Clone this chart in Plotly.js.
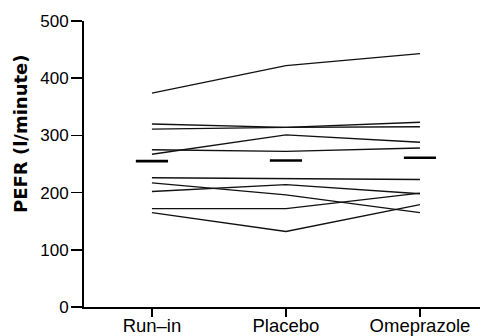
<!DOCTYPE html>
<html><head><meta charset="utf-8">
<script src="https://cdn.plot.ly/plotly-3.0.1.min.js"></script>
<style>html,body{margin:0;padding:0;background:#fff}#c{width:480px;height:336px}</style>
</head><body><div id="c"></div>
<script>
const categories = ["Run\u2013in", "Placebo", "Omeprazole"];
const patientA = [374, 422, 443];
const patientB = [320, 314, 323];
const patientC = [311, 314, 315];
const patientD = [267, 301, 288];
const patientE = [275, 272, 278];
const patientF = [226, 224, 223];
const patientG = [217, 196, 165];
const patientH = [202, 214, 198];
const patientI = [172, 172, 199];
const patientJ = [165, 132, 179];
const means = [255, 256, 261];
const yTicks = [0, 100, 200, 300, 400, 500];
const yTitle = "PEFR (l/minute)";

const patients = [patientA, patientB, patientC, patientD, patientE, patientF, patientG, patientH, patientI, patientJ];
const xIdx = [0, 1, 2];
const traces = patients.map(p => ({
  x: xIdx, y: p, type: 'scatter', mode: 'lines',
  line: {color: '#111', width: 1.4}, hoverinfo: 'skip', showlegend: false
}));
traces.push({
  x: xIdx, y: means, type: 'scatter', mode: 'markers', showlegend: false,
  marker: {symbol: 'line-ew-open', size: 23, color: '#000', line: {color: '#000', width: 2.6}}
});

const layout = {
  width: 480, height: 336,
  margin: {l: 84, r: 0, t: 21, b: 29},
  paper_bgcolor: '#fff', plot_bgcolor: '#fff',
  font: {family: 'Liberation Sans, Arial, sans-serif', color: '#000', size: 17},
  showlegend: false,
  xaxis: {
    range: [-0.507, 2.448], tickvals: xIdx, ticktext: categories,
    showgrid: false, zeroline: false, showline: true, linecolor: '#000', linewidth: 2,
    ticks: 'outside', ticklen: 8, tickwidth: 1.5, tickcolor: '#000',
    tickfont: {size: 18.5}, ticklabelstandoff: -7, fixedrange: true
  },
  yaxis: {
    range: [0, 500], tickvals: yTicks,
    showgrid: false, zeroline: false, showline: true, linecolor: '#000', linewidth: 2,
    ticks: 'outside', ticklen: 11, tickwidth: 1.5, tickcolor: '#000',
    tickfont: {size: 17}, ticklabelstandoff: -1,
    fixedrange: true
  },
  annotations: [{
    text: '<b>' + yTitle + '</b>', textangle: -90, showarrow: false,
    xref: 'paper', yref: 'paper', x: 0, y: 0.605, xanchor: 'center', yanchor: 'middle',
    xshift: -63, font: {family: 'DejaVu Sans, sans-serif', size: 18, color: '#000'}
  }]
};
Plotly.newPlot('c', traces, layout, {staticPlot: true, displayModeBar: false});
</script></body></html>
